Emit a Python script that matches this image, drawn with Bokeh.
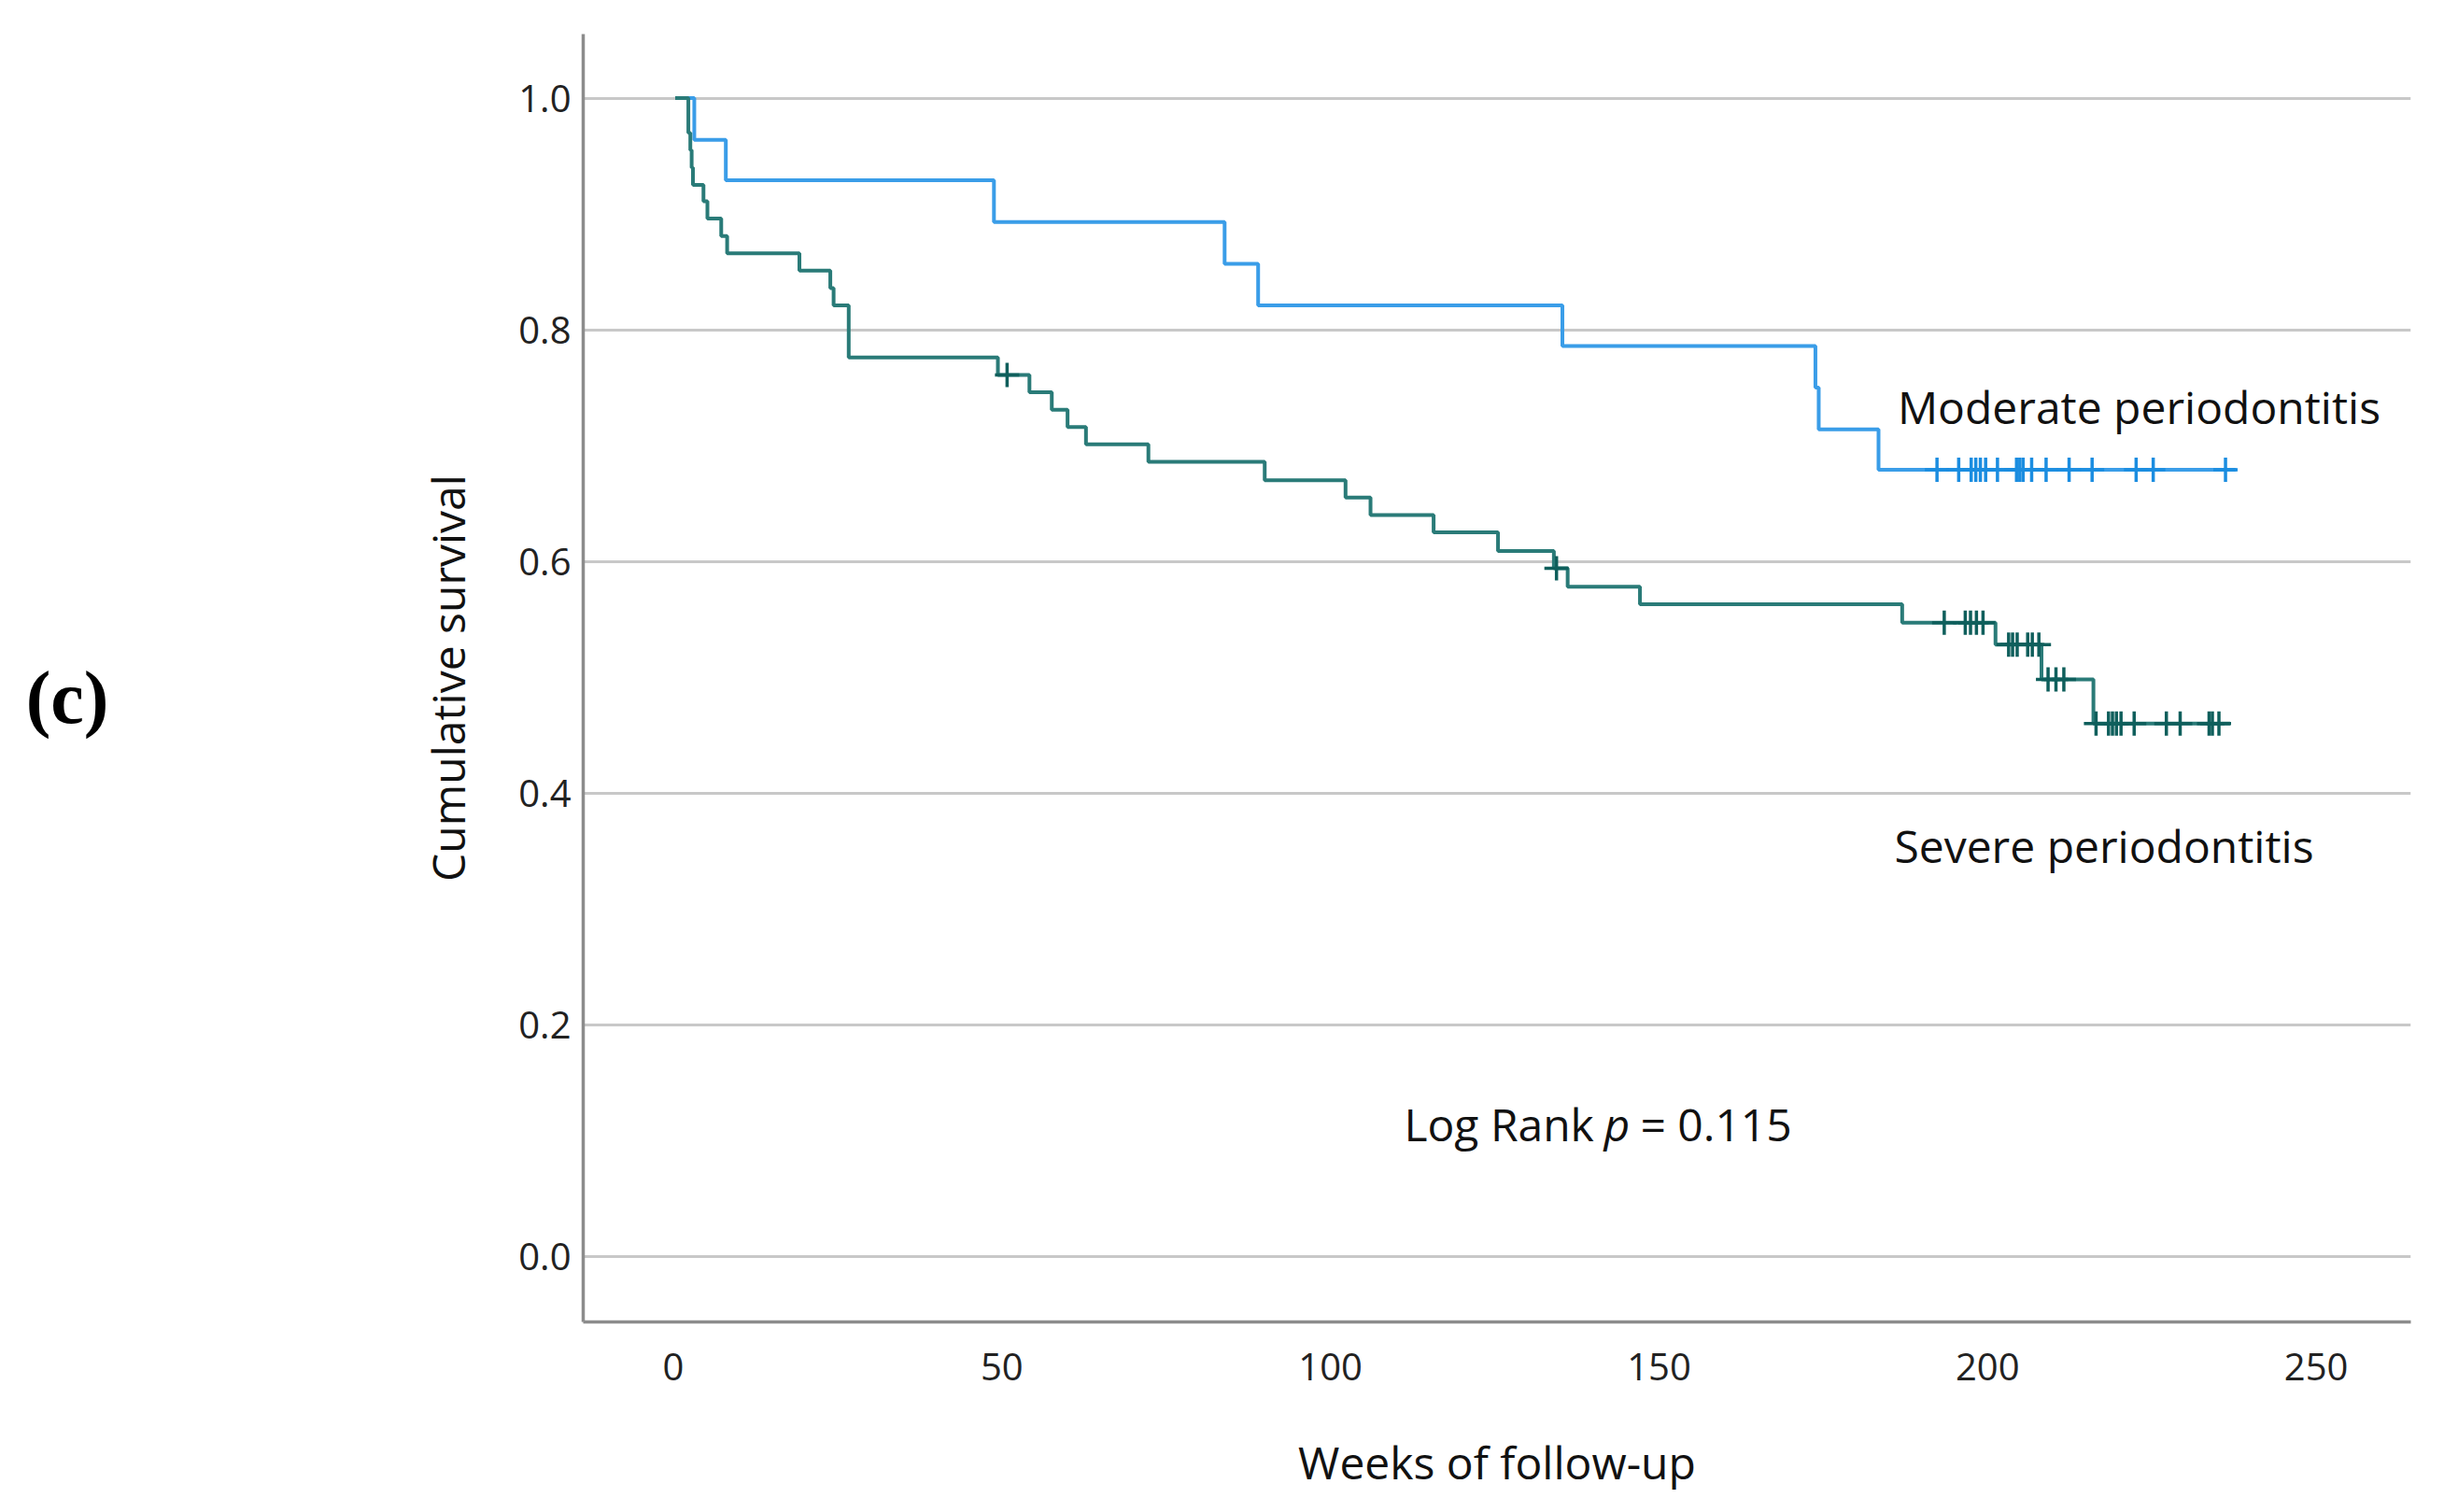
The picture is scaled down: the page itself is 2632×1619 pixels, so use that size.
from bokeh.plotting import figure
from bokeh.models import Range1d, FixedTicker, Label, LinearAxis
from bokeh.embed import file_html
from bokeh.resources import INLINE

# ---------------- data ----------------
# Moderate periodontitis: event times (weeks) and survival after each step
mod_times = [0.3, 3.2, 8.0, 48.8, 83.9, 89.0, 135.3, 173.8, 174.3, 183.4]
mod_surv = [1.0, 0.964, 0.929, 0.893, 0.857, 0.821, 0.786, 0.750, 0.714, 0.679]
mod_end = 237.8
mod_censor = [192.3, 195.6, 197.5, 198.2, 198.9, 199.7, 201.5, 204.4, 204.9,
              205.4, 206.7, 208.9, 212.4, 215.9, 222.6, 225.2, 236.2]

# Severe periodontitis
sev_times = [0.3, 2.3, 2.6, 2.8, 3.0, 4.6, 5.2, 7.3, 8.2, 19.2, 23.9, 24.4, 26.7,
             49.4, 54.2, 57.6, 60.0, 62.8, 72.3, 90.0, 102.3, 106.1, 115.7,
             125.5, 134.0, 136.1, 147.1, 187.0, 201.2, 208.2, 216.1]
sev_surv = [1.0, 0.970, 0.955, 0.940, 0.925, 0.911, 0.896, 0.881, 0.866, 0.851,
            0.836, 0.821, 0.776, 0.761, 0.746, 0.731, 0.716, 0.701, 0.686,
            0.670, 0.655, 0.640, 0.625, 0.609, 0.594, 0.578, 0.563, 0.547,
            0.528, 0.498, 0.460]
sev_end = 236.9
sev_censor = [50.8, 134.4, 193.4, 196.6, 197.4, 198.3, 199.3,
              203.2, 203.8, 204.5, 206.1, 206.8, 207.8,
              209.2, 210.4, 211.6,
              216.5, 218.4, 219.0, 219.6, 220.3, 222.3, 227.2, 229.3, 233.7,
              234.2, 235.2]

x_ticks = [0, 50, 100, 150, 200, 250]
x_tick_labels = ["0", "50", "100", "150", "200", "250"]
y_ticks = [0.0, 0.2, 0.4, 0.6, 0.8, 1.0]
y_tick_labels = ["0.0", "0.2", "0.4", "0.6", "0.8", "1.0"]

group_labels = ["Moderate periodontitis", "Severe periodontitis"]
x_title = "Weeks of follow-up"
y_title = "Cumulative survival"
panel_tag = "(c)"
panel_tag_y = 0.482

# ---------------- styling ----------------
FONT = "'Open Sans', 'Noto Sans', sans-serif"
BLUE_LINE, BLUE_MARK = "#3a9de8", "#1b8de0"
TEAL_LINE, TEAL_MARK = "#2a7b78", "#0f5f5c"


def surv_at(times, surv, t):
    s = surv[0]
    for ti, si in zip(times, surv):
        if ti <= t:
            s = si
    return s


p = figure(width=2616, height=1600, output_backend="svg", toolbar_location=None,
           x_range=Range1d(-13.7, 264.4), y_range=Range1d(-0.0568, 1.0553),
           min_border_left=624, min_border_right=35, min_border_top=36,
           min_border_bottom=185)
p.outline_line_color = None
p.background_fill_color = "white"
p.border_fill_color = "white"

# axes
for ax in (p.xaxis[0], p.yaxis[0]):
    ax.axis_line_color = "#8c8c8c"
    ax.axis_line_width = 3.5
    ax.major_tick_line_color = None
    ax.minor_tick_line_color = None
    ax.major_label_text_font = FONT
    ax.major_label_text_font_size = "40px"
    ax.major_label_text_color = "#222222"
    ax.axis_label_text_font = FONT
    ax.axis_label_text_font_size = "48px"
    ax.axis_label_text_font_style = "normal"
    ax.axis_label_text_color = "#111111"

p.xaxis[0].ticker = FixedTicker(ticks=x_ticks)
p.xaxis[0].major_label_overrides = {t: l for t, l in zip(x_ticks, x_tick_labels)}
p.xaxis[0].major_label_standoff = 27
p.xaxis[0].axis_label = x_title
p.xaxis[0].axis_label_standoff = 52

p.yaxis[0].ticker = FixedTicker(ticks=y_ticks)
p.yaxis[0].major_label_overrides = {t: l for t, l in zip(y_ticks, y_tick_labels)}
p.yaxis[0].major_label_standoff = 7
p.yaxis[0].axis_label = y_title
p.yaxis[0].axis_label_standoff = 40

# panel tag "(c)" drawn as the single label of an extra, line-less left axis
tag_axis = LinearAxis(ticker=FixedTicker(ticks=[panel_tag_y]),
                      major_label_overrides={panel_tag_y: panel_tag})
tag_axis.axis_line_color = None
tag_axis.major_tick_line_color = None
tag_axis.minor_tick_line_color = None
tag_axis.major_label_text_font = "'Liberation Serif', 'DejaVu Serif', serif"
tag_axis.major_label_text_font_size = "80px"
tag_axis.major_label_text_font_style = "bold"
tag_axis.major_label_text_color = "#000000"
tag_axis.major_label_standoff = 322
p.add_layout(tag_axis, "left")

p.xgrid.grid_line_color = None
p.ygrid.grid_line_color = "#c8c8c8"
p.ygrid.grid_line_width = 3

# curves
p.step(mod_times + [mod_end], mod_surv + [mod_surv[-1]], mode="after",
       line_color=BLUE_LINE, line_width=4)
p.step(sev_times + [sev_end], sev_surv + [sev_surv[-1]], mode="after",
       line_color=TEAL_LINE, line_width=4)

p.scatter(mod_censor, [surv_at(mod_times, mod_surv, t) for t in mod_censor],
          marker="cross", size=26, line_width=3.5, line_color=BLUE_MARK)
p.scatter(sev_censor, [surv_at(sev_times, sev_surv, t) for t in sev_censor],
          marker="cross", size=26, line_width=3.5, line_color=TEAL_MARK)

# annotations inside the plot area
def add_label(text, x, y, size="48px", **kw):
    lab = Label(x=x, y=y, text=text, text_font=FONT, text_font_size=size,
                text_color="#111111", text_baseline="alphabetic", **kw)
    p.add_layout(lab)
    return lab

add_label(group_labels[0], 186.3, 0.7335)
add_label(group_labels[1], 185.8, 0.3545)
add_label("Log Rank", 111.2, 0.1139)
add_label("p", 111.2, 0.1139, x_offset=214, text_font_style="italic")
add_label("= 0.115", 111.2, 0.1139, x_offset=253)

open("out.html", "w").write(file_html(p, INLINE))
